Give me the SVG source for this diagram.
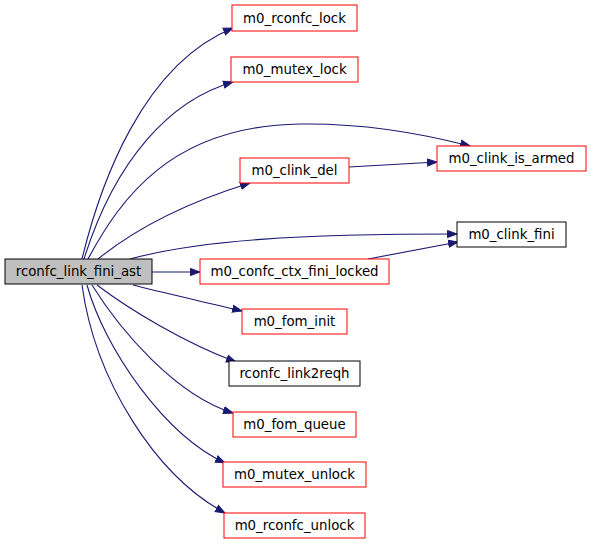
<svg xmlns="http://www.w3.org/2000/svg" width="591" height="544" viewBox="0 0 591 544">
<defs>
<marker id="arr" markerWidth="12" markerHeight="9" refX="10" refY="4.5" orient="auto" markerUnits="userSpaceOnUse">
<path d="M0.5,1 L10,4.5 L0.5,8 z" fill="#191970" stroke="#191970" stroke-width="1"/>
</marker>
<style>
.n rect{fill:#ffffff;stroke:#ff0000;stroke-width:1}
.n.b rect{stroke:#000000}
.n.root rect{fill:#bfbfbf;stroke:#000000}
.n text{font-family:"DejaVu Sans",sans-serif;font-size:13.33px;text-anchor:middle;fill:#000000}
.e path{fill:none;stroke:#191970;stroke-width:1.1;marker-end:url(#arr)}
</style>
</defs>
<rect width="591" height="544" fill="#ffffff"/>
<g id="connectors" class="e">
<path d="M82,259 C100,185 142,65 233,28"/>
<path d="M84,259 C115,160 170,100 233,82"/>
<path d="M88,259 C120,200 170,126 300,124 C360,123 420,133 470,146"/>
<path d="M98,259 C140,225 195,200 250,183"/>
<path d="M130,259 C200,240 300,234 457,234"/>
<path d="M349,167 L437,162"/>
<path d="M368,259 L458,242"/>
<path d="M152,272 L200,272"/>
<path d="M133,285 C160,292 205,302 242,311"/>
<path d="M97,285 C130,310 185,343 236,362"/>
<path d="M92,285 C120,330 175,395 233,413"/>
<path d="M87,285 C105,350 165,435 225,463"/>
<path d="M82,285 C95,380 155,475 225,513"/>
</g>
<g id="rconfc_link_fini_ast" class="n root"><rect x="5" y="259" width="147" height="25"/><text x="78.5" y="276">rconfc_link_fini_ast</text></g>
<g id="m0_rconfc_lock" class="n"><rect x="232" y="5" width="125" height="26"/><text x="294.5" y="22.5">m0_rconfc_lock</text></g>
<g id="m0_mutex_lock" class="n"><rect x="231" y="57" width="127" height="25"/><text x="294.5" y="74">m0_mutex_lock</text></g>
<g id="m0_clink_is_armed" class="n"><rect x="437" y="146" width="149" height="25"/><text x="511.5" y="163">m0_clink_is_armed</text></g>
<g id="m0_clink_del" class="n"><rect x="240" y="158" width="109" height="25"/><text x="294.5" y="175">m0_clink_del</text></g>
<g id="m0_clink_fini" class="n b"><rect x="457" y="222" width="109" height="25"/><text x="511.5" y="239">m0_clink_fini</text></g>
<g id="m0_confc_ctx_fini_locked" class="n"><rect x="200" y="259" width="189" height="25"/><text x="294.5" y="276">m0_confc_ctx_fini_locked</text></g>
<g id="m0_fom_init" class="n"><rect x="242" y="309" width="105" height="25"/><text x="294.5" y="326">m0_fom_init</text></g>
<g id="rconfc_link2reqh" class="n b"><rect x="229" y="361" width="131" height="25"/><text x="294.5" y="378">rconfc_link2reqh</text></g>
<g id="m0_fom_queue" class="n"><rect x="233" y="412" width="123" height="25"/><text x="294.5" y="429">m0_fom_queue</text></g>
<g id="m0_mutex_unlock" class="n"><rect x="223" y="462" width="143" height="25"/><text x="294.5" y="479">m0_mutex_unlock</text></g>
<g id="m0_rconfc_unlock" class="n"><rect x="224" y="513" width="141" height="25"/><text x="294.5" y="530">m0_rconfc_unlock</text></g>
</svg>
